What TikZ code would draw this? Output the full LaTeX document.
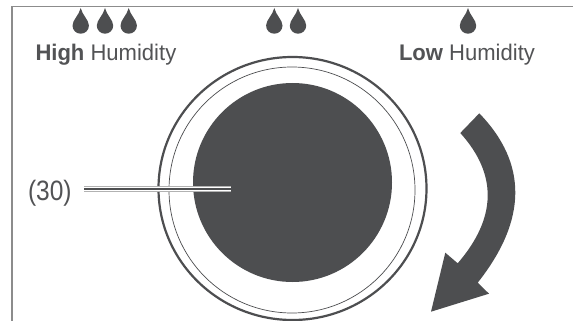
\documentclass[tikz,border=0pt]{standalone}
\usepackage{fontspec}
\setmainfont{Liberation Sans}
\definecolor{ink}{HTML}{4D4E50}
\definecolor{txt}{HTML}{525355}
\definecolor{framec}{HTML}{8C8C8C}
\tikzset{
  dropshape/.pic={\fill[ink] (0,0) .. controls (1.5,7) and (8.2,12) .. (8.2,17.5)
     .. controls (8.2,22.3) and (4.5,25.7) .. (0,25.7)
     .. controls (-4.5,25.7) and (-8.2,22.3) .. (-8.2,17.5)
     .. controls (-8.2,12) and (-1.5,7) .. (0,0) -- cycle;},
  lab/.style={anchor=base west,inner sep=0pt,outer sep=0pt,text=txt,font=\fontsize{22.6}{24}\selectfont,xscale=.975,transform shape},
  numlab/.style={anchor=base west,inner sep=0pt,outer sep=0pt,text=txt,font=\fontsize{28}{30}\selectfont,xscale=.875,transform shape},
  lead/.style={line cap=butt}
}
\begin{document}
\begin{tikzpicture}[x=1pt,y=-1pt]
\useasboundingbox[fill=white] (0,0) rectangle (573,321);
% frame
\draw[framec,line width=1.3pt] (12,321) -- (12,6.5) -- (573,6.5);
% drops
\foreach \px in {80.7,105,128.7,274.3,298,468} \path (\px,8) pic {dropshape};
% labels
\node[lab] (high) at (35.5,61) {\textbf{High} Humidity};
\node[lab] (low) at (399,61) {\textbf{Low} Humidity};
\node[numlab] (num) at (28,200.7) {(30)};
% dial
\draw[ink,line width=2.2pt] (292.5,188.5) ellipse [x radius=134,y radius=131.5];
\draw[ink,line width=0.7pt] (292,190) circle [radius=123];
\fill[ink] (292.5,182.5) circle [radius=99.5];
% leader
\coordinate (ls) at (84,189);
\coordinate (le) at (231,189);
\draw[lead,color=black!30,line width=5.2pt] (ls) -- (le);
\draw[lead,color=white,line width=4pt] (ls) -- (le);
\draw[lead,color=ink,line width=1.7pt] (ls) -- (le);
% arrow
\fill[ink] (479.3,113.3) -- (460.3,133)
  .. controls (497.7,174.5) and (496.8,217.9) .. (457.7,263.3)
  -- (445.3,252.7) -- (431,311.7) -- (489,293.7) -- (477.7,282.7)
  .. controls (527.3,220) and (527.8,163.5) .. (479.3,113.3) -- cycle;
\end{tikzpicture}
\end{document}
